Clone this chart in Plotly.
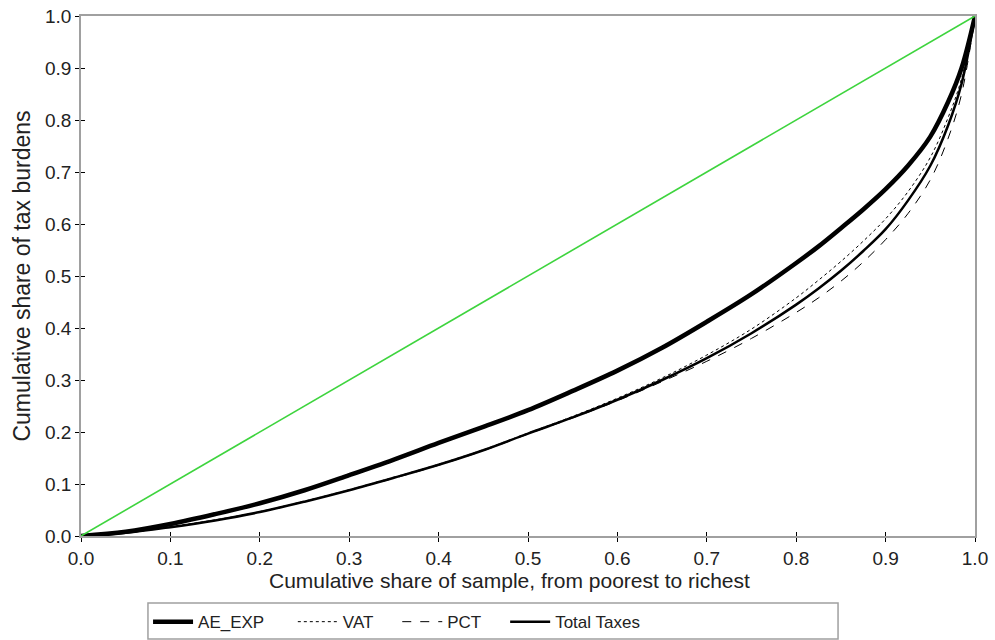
import plotly.graph_objects as go

# Cumulative share of sample (x) grid
x_share = [0.0, 0.05, 0.1, 0.15, 0.2, 0.25, 0.3, 0.35, 0.4, 0.45, 0.5, 0.55,
           0.6, 0.65, 0.7, 0.75, 0.8, 0.825, 0.85, 0.875, 0.9, 0.925, 0.95,
           0.97, 0.985, 1.0]

ae_exp = [0.0, 0.008, 0.023, 0.042, 0.063, 0.088, 0.117, 0.147, 0.179, 0.210,
          0.242, 0.279, 0.318, 0.362, 0.412, 0.465, 0.525, 0.557, 0.592, 0.628,
          0.667, 0.712, 0.768, 0.835, 0.900, 1.0]

vat = [0.0, 0.006, 0.018, 0.031, 0.047, 0.067, 0.089, 0.113, 0.138, 0.166,
       0.198, 0.230, 0.265, 0.304, 0.348, 0.398, 0.458, 0.492, 0.528, 0.567,
       0.610, 0.662, 0.728, 0.805, 0.880, 1.0]

pct = [0.0, 0.006, 0.017, 0.030, 0.046, 0.066, 0.088, 0.111, 0.136, 0.164,
       0.196, 0.227, 0.260, 0.297, 0.336, 0.380, 0.430, 0.458, 0.490, 0.527,
       0.570, 0.620, 0.685, 0.765, 0.850, 1.0]

total_taxes = [0.0, 0.006, 0.017, 0.030, 0.046, 0.066, 0.088, 0.112, 0.137, 0.165,
               0.197, 0.228, 0.262, 0.300, 0.342, 0.390, 0.445, 0.476, 0.510, 0.548,
               0.590, 0.645, 0.712, 0.790, 0.870, 1.0]

equality_x = [0.0, 1.0]
equality_y = [0.0, 1.0]

tick_vals = [0.0, 0.1, 0.2, 0.3, 0.4, 0.5, 0.6, 0.7, 0.8, 0.9, 1.0]
tick_text = ["0.0", "0.1", "0.2", "0.3", "0.4", "0.5", "0.6", "0.7", "0.8", "0.9", "1.0"]

FONT = "Liberation Sans, Arial, sans-serif"
PAD = "\u00a0"  # extra spacing after legend labels

fig = go.Figure()
fig.add_trace(go.Scatter(x=equality_x, y=equality_y, mode="lines", xaxis="x2", yaxis="y2",
                         line=dict(color="#3ed43e", width=1.6), showlegend=False,
                         hoverinfo="skip"))
fig.add_trace(go.Scatter(x=x_share, y=pct, mode="lines", name="PCT" + PAD * 4,
                         line=dict(color="black", width=1, dash="dash", shape="spline"),
                         legendrank=3))
fig.add_trace(go.Scatter(x=x_share, y=vat, mode="lines", name="VAT" + PAD * 4,
                         line=dict(color="black", width=1, dash="dot", shape="spline"),
                         legendrank=2))
fig.add_trace(go.Scatter(x=x_share, y=total_taxes, mode="lines", name="Total Taxes",
                         line=dict(color="black", width=2.5, shape="spline"),
                         legendrank=4))
fig.add_trace(go.Scatter(x=x_share, y=ae_exp, mode="lines", name="AE_EXP" + PAD * 5,
                         line=dict(color="black", width=4.5, shape="spline"),
                         legendrank=1))

axis_common = dict(
    range=[0, 1], tickvals=tick_vals, ticktext=tick_text,
    ticks="outside", ticklen=4, tickwidth=1, tickcolor="black",
    showline=True, linecolor="#a0a0a0", linewidth=1.5, mirror=True,
    showgrid=False, zeroline=False, automargin=False,
    tickfont=dict(family=FONT, size=19, color="#222"),
)
overlay_common = dict(
    range=[0, 1], tickvals=tick_vals, ticks="inside", ticklen=4, tickwidth=1,
    tickcolor="black", showticklabels=False, showline=False, showgrid=False,
    zeroline=False, automargin=False,
)

fig.update_layout(
    width=995, height=640,
    margin=dict(l=81, r=20, t=16, b=104, autoexpand=False),
    paper_bgcolor="white", plot_bgcolor="white",
    font=dict(family=FONT, size=19, color="#222"),
    xaxis=dict(**axis_common),
    yaxis=dict(**axis_common,
               title=dict(text="Cumulative share of tax burdens",
                          font=dict(family=FONT, size=23, color="#222"),
                          standoff=8)),
    xaxis2=dict(**overlay_common, overlaying="x", side="bottom", anchor="y"),
    yaxis2=dict(**overlay_common, overlaying="y", side="left", anchor="x"),
    legend=dict(orientation="h", x=0.075, xanchor="left", y=-0.131, yanchor="top",
                borderwidth=0, bgcolor="rgba(0,0,0,0)",
                font=dict(family=FONT, size=17, color="#222"),
                traceorder="normal", itemwidth=40),
    shapes=[dict(type="rect", xref="paper", yref="paper",
                 x0=0.0749, x1=0.8468, y0=-0.1288, y1=-0.198,
                 line=dict(color="#a0a0a0", width=1.5), fillcolor="rgba(0,0,0,0)",
                 layer="below")],
    annotations=[dict(text="Cumulative share of sample, from poorest to richest",
                      xref="paper", yref="paper", x=0.479, y=-0.085,
                      xanchor="center", yanchor="middle", showarrow=False,
                      font=dict(family=FONT, size=21, color="#222"))],
    showlegend=True,
)

fig.write_html("out.html")
